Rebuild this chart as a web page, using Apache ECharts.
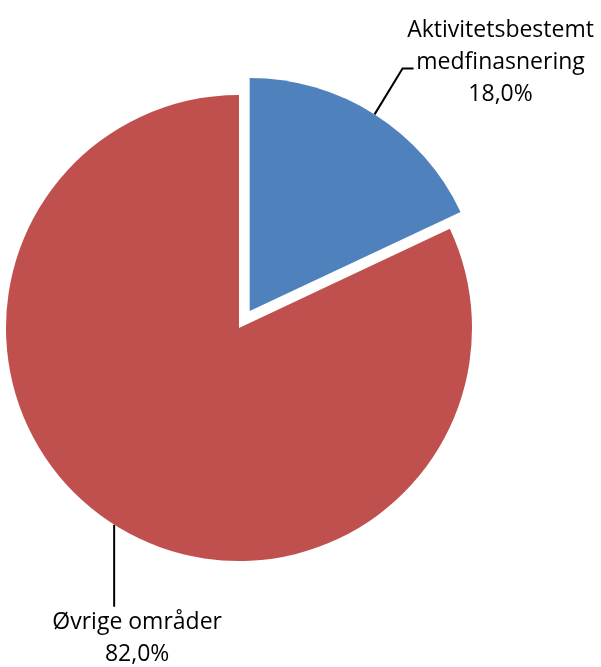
<!DOCTYPE html>
<html><head><meta charset="utf-8">
<script src="https://cdn.jsdelivr.net/npm/echarts@6/dist/echarts.min.js"></script>
<style>html,body{margin:0;padding:0;background:#fff}#c{width:601px;height:667px}</style>
</head><body><div id="c"></div>
<script>
var categories = ['Aktivitetsbestemt\nmedfinasnering', 'Øvrige områder'];
var values = [18.0, 82.0];
var colors = ['#4F81BD', '#C0504D'];

var OFFSET = 20;
var total = values.reduce(function (a, b) { return a + b; }, 0);
var midRad = Math.PI * 2 * (values[0] / total) / 2;
var off = [OFFSET * Math.sin(midRad), -OFFSET * Math.cos(midRad)];

var labelStyle = {
  show: true,
  position: 'outside',
  color: '#000',
  fontFamily: 'Open Sans',
  fontSize: 23,
  lineHeight: 32,
  align: 'center',
  formatter: function (p) {
    return p.name + '\n' + p.value.toFixed(1).replace('.', ',') + '%';
  }
};
var lineStyle = {show: true, length: 50, length2: 8, lineStyle: {color: '#000', width: 2}};

var chart = echarts.init(document.getElementById('c'), null, {renderer: 'canvas'});

// Main pie (sectors; blue exploded). Label shown for the red slice.
var data1 = categories.map(function (c, i) {
  return {name: c, value: values[i], selected: i === 0, itemStyle: {color: colors[i]},
          label: {show: i !== 0}, labelLine: {show: i !== 0}};
});
// Overlay pie (transparent) used for the exploded slice's label.
var data2 = categories.map(function (c, i) {
  return {name: c, value: values[i], itemStyle: {color: 'rgba(0,0,0,0)'},
          label: {show: i === 0}, labelLine: {show: i === 0}};
});

chart.setOption({
  animation: false,
  series: [{
    type: 'pie',
    center: [239, 328],
    radius: [0, 233],
    startAngle: 90,
    clockwise: true,
    selectedMode: 'single',
    selectedOffset: OFFSET,
    avoidLabelOverlap: false,
    data: data1,
    emphasis: {disabled: true},
    label: labelStyle,
    labelLine: lineStyle,
    labelLayout: function (p) {
      var pts = p.labelLinePoints;
      if (!pts) return {};
      var p0 = pts[0];
      var q1 = [p0[0], p0[1] + 82];
      return {x: p0[0] + 23, y: p0[1] + 114, align: 'center', verticalAlign: 'middle',
              labelLinePoints: [p0, q1, q1]};
    }
  }, {
    type: 'pie',
    silent: true,
    center: [239, 328],
    radius: [0, 233],
    startAngle: 90,
    clockwise: true,
    avoidLabelOverlap: false,
    data: data2,
    emphasis: {disabled: true},
    label: labelStyle,
    labelLine: lineStyle,
    labelLayout: function (p) {
      var pts = p.labelLinePoints;
      if (!pts) return {};
      var p0 = [pts[0][0] + off[0], pts[0][1] + off[1]];
      var p1 = [p0[0] + 28, p0[1] - 46];
      var p2 = [p1[0] + 11, p1[1]];
      return {x: p2[0] + 87, y: p2[1] - 6, align: 'center', verticalAlign: 'middle',
              labelLinePoints: [p0, p1, p2]};
    }
  }]
});
</script></body></html>
